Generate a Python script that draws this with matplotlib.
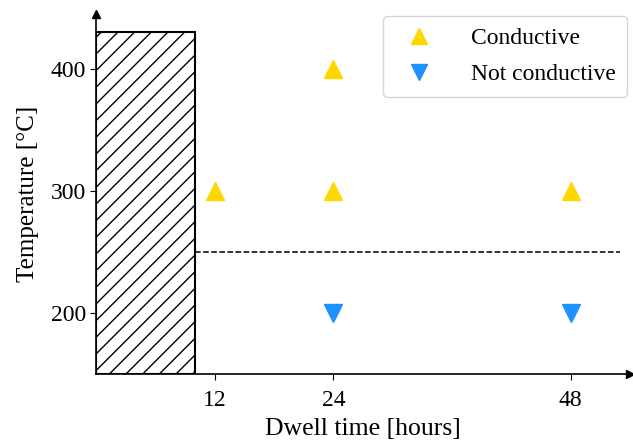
import matplotlib.pyplot as plt
from matplotlib.patches import Rectangle

plt.rcParams['font.family'] = ['Liberation Serif', 'DejaVu Serif']
plt.rcParams['font.size'] = 18
plt.rcParams['hatch.linewidth'] = 1.0

# samples that conduct / do not conduct (dwell time in hours, temperature in C)
cond_hours = [12, 24, 24, 48]
cond_temp = [300, 300, 400, 300]
noncond_hours = [24, 48]
noncond_temp = [200, 200]

excluded_hours = 10      # hatched region width
excluded_top = 430
threshold_temp = 250
threshold_end = 53

fig = plt.figure(figsize=(6.33, 4.45), dpi=100)
ax = fig.add_axes([0.152, 0.160, 0.843, 0.809])

ax.add_patch(Rectangle((0, 150), excluded_hours, excluded_top - 150,
                       facecolor='white', edgecolor='black', hatch='//', linewidth=1.5))
ax.plot([excluded_hours, threshold_end], [threshold_temp, threshold_temp],
        'k--', linewidth=1.1)

ax.plot(cond_hours, cond_temp, '^', color='gold', markersize=13,
        linestyle='none', label='Conductive')
ax.plot(noncond_hours, noncond_temp, 'v', color='dodgerblue', markersize=13,
        linestyle='none', label='Not conductive')

ax.set_xlim(0, 54)
ax.set_ylim(150, 445)
ax.set_xticks([12, 24, 48])
ax.set_yticks([200, 300, 400])
ax.tick_params(labelsize=17, length=4)
ax.tick_params(axis='x', pad=8)
ax.set_xlabel('Dwell time [hours]', labelpad=5, fontsize=18.5)
ax.set_ylabel('Temperature [°C]', labelpad=8)

for s in ['top', 'right']:
    ax.spines[s].set_visible(False)
ax.spines['left'].set_linewidth(1.2)
ax.spines['bottom'].set_linewidth(1.2)
ax.plot(1, 0, '>k', markersize=6, transform=ax.transAxes, clip_on=False)
ax.plot(0, 1, '^k', markersize=6, transform=ax.transAxes, clip_on=False)

ax.legend(loc='upper right', bbox_to_anchor=(1.0, 1.0), borderaxespad=0.1,
          handletextpad=1.2, fontsize=17, markerscale=0.9,
          labelspacing=0.6, borderpad=0.5)

fig.savefig('out.png', dpi=100)
